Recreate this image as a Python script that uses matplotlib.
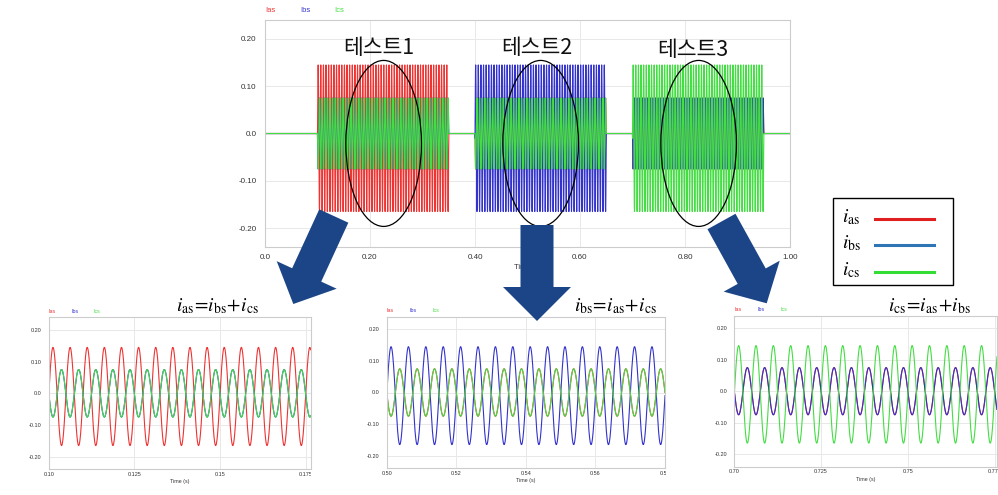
import numpy as np
import matplotlib.pyplot as plt
from matplotlib.patches import Ellipse, Polygon, Rectangle

# ---- data ----
phase_names = ['Ias', 'Ibs', 'Ics']
phase_colors = ['#ee3333', '#3333cc', '#44dd44']
test_labels = ['테스트1', '테스트2', '테스트3']
test_start = [0.10, 0.40, 0.70]          # s, when each test current is injected
test_end = [0.35, 0.65, 0.95]
freq = 200.0                             # Hz
fault_peak = 0.145                       # tested phase, positive peak
fault_trough = -0.165                    # tested phase, negative peak
other_amp = 0.075                        # the two return phases (anti-phase)
zoom_xlim = [(0.10, 0.1765), (0.50, 0.5795), (0.70, 0.7757)]
zoom_xticks = [[0.10, 0.125, 0.15, 0.175], [0.50, 0.52, 0.54, 0.56, 0.58], [0.70, 0.725, 0.75, 0.775]]
zoom_xlabels = [['0.10', '0.125', '0.15', '0.175'], ['0.50', '0.52', '0.54', '0.56', '0.58'],
                ['0.70', '0.725', '0.75', '0.775']]
top_xticks = [0.0, 0.2, 0.4, 0.6, 0.8, 1.0]
top_xlabels = ['0.0', '0.20', '0.40', '0.60', '0.80', '1.00']
yticks = [-0.2, -0.1, 0.0, 0.1, 0.2]
ylabels = ['-0.20', '-0.10', '0.0', '0.10', '0.20']
formulas = [r'$i_{\rm as}\!=\!i_{\rm bs}\!+\!i_{\rm cs}$',
            r'$i_{\rm bs}\!=\!i_{\rm as}\!+\!i_{\rm cs}$',
            r'$i_{\rm cs}\!=\!i_{\rm as}\!+\!i_{\rm bs}$']
legend_labels = [r'$i_{\rm as}$', r'$i_{\rm bs}$', r'$i_{\rm cs}$']
legend_colors = ['#e02020', '#2e75b6', '#33dd33']

# ---- build the three phase currents ----
t = np.arange(0, 1.0, 2e-5)
currents = np.zeros((3, t.size))
mid = (fault_peak + fault_trough) / 2
amp = (fault_peak - fault_trough) / 2
for k in range(3):
    on = (t >= test_start[k]) & (t <= test_end[k])
    s = np.sin(2 * np.pi * freq * t[on])
    for p in range(3):
        if p == k:
            currents[p, on] = mid + amp * s
        else:
            currents[p, on] = -other_amp * s

W, H = 998, 495
plt.rcParams['mathtext.fontset'] = 'stix'
fig = plt.figure(figsize=(W / 100, H / 100), dpi=100)


def px_axes(x0, y0, x1, y1):
    return fig.add_axes([x0 / W, 1 - y1 / H, (x1 - x0) / W, (y1 - y0) / H])


def style(ax, fs, ypad, xpad):
    ax.set_ylim(-0.24, 0.24)
    ax.set_yticks(yticks)
    ax.set_yticklabels(ylabels)
    ax.grid(True, color='#e8e8e8', lw=0.7)
    ax.set_axisbelow(True)
    for sp in ax.spines.values():
        sp.set_color('#cccccc')
        sp.set_linewidth(0.8)
    ax.tick_params(length=0, labelsize=fs, colors='#333333', pad=ypad, axis='y')
    ax.tick_params(length=0, labelsize=fs, colors='#333333', pad=xpad, axis='x')
    for lbl in ax.get_xticklabels() + ax.get_yticklabels():
        lbl.set_family('Liberation Sans')


# ---- overview plot ----
ax = px_axes(265, 20, 790, 247)
for p in range(3):
    ax.plot(t, currents[p], color=phase_colors[p], lw=0.8)
ax.set_xlim(0, 1.0)
ax.set_xticks(top_xticks)
ax.set_xticklabels(top_xlabels)
style(ax, 5.8, 6, 5)
ax.set_xlabel('Time (s)', fontsize=5.5, family='Liberation Sans', labelpad=2, color='#333333')
for p, x in enumerate([270, 305, 339]):
    fig.text(x / W, 1 - 10 / H, phase_names[p], color=phase_colors[p], fontsize=5.5,
             family='Liberation Sans', ha='center', va='center')

ell_t = [0.226, 0.525, 0.826]
for k in range(3):
    ax.add_patch(Ellipse((ell_t[k], -0.021), 0.144, 0.351, fill=False, ec='black', lw=0.9, zorder=5))
txt_pos = [(0.2175, 0.181), (0.5175, 0.181), (0.814, 0.176)]
for k in range(3):
    ax.text(*txt_pos[k], test_labels[k], fontsize=15.5, ha='center', va='center',
            family=['Noto Sans CJK KR', 'DejaVu Sans'], color='#111111', zorder=6)

# ---- zoomed plots ----
zoom_box = [(48.7, 317.3, 310.7, 469.3), (386.7, 316.7, 665, 468.3), (734.3, 315.7, 997, 466.7)]
leg_x = [(52, 75, 97), (390, 412.7, 435.7), (737.7, 761, 784.3)]
formula_x = [217, 615, 929]
for k in range(3):
    x0, y0, x1, y1 = zoom_box[k]
    az = px_axes(x0, y0, x1, y1)
    for p in range(3):
        az.plot(t, currents[p], color=phase_colors[p], lw=0.8)
    az.set_xlim(*zoom_xlim[k])
    az.set_xticks(zoom_xticks[k])
    az.set_xticklabels(zoom_xlabels[k])
    style(az, 4, 5, 2)
    az.set_xlabel('Time (s)', fontsize=3.8, family='Liberation Sans', labelpad=1.5, color='#333333')
    for p in range(3):
        fig.text(leg_x[k][p] / W, 1 - (y0 - 6) / H, phase_names[p], color=phase_colors[p],
                 fontsize=3.8, family='Liberation Sans', ha='center', va='center')
    fig.text(formula_x[k] / W, 1 - 306 / H, formulas[k], fontsize=14, ha='center', va='center')

# hide tick labels that spill over the cropped screenshots
for x0, x1 in [(311, 380), (665.5, 720)]:
    fig.patches.append(Rectangle((x0 / W, 1 - 482 / H), (x1 - x0) / W, 12 / H,
                                 transform=fig.transFigure, fc='white', ec='none', zorder=3))


# ---- block arrows ----
def block_arrow(x0, y0, x1, y1, shaft, head_w, head_len):
    p0 = np.array([x0, y0], float)
    p1 = np.array([x1, y1], float)
    d = p1 - p0
    L = np.hypot(*d)
    u = d / L
    n = np.array([-u[1], u[0]])
    base = p0 + u * (L - head_len)
    pts = [p0 + n * shaft / 2, base + n * shaft / 2, base + n * head_w / 2, p1,
           base - n * head_w / 2, base - n * shaft / 2, p0 - n * shaft / 2]
    pts = [(q[0] / W, 1 - q[1] / H) for q in pts]
    fig.patches.append(Polygon(pts, closed=True, transform=fig.transFigure,
                               fc='#1c4587', ec='none', zorder=5))


block_arrow(333.8, 216, 293.3, 304, 32, 66, 32)
block_arrow(537, 225, 537, 321, 33, 68, 34)
block_arrow(721.5, 221.5, 766.7, 303.3, 32, 64, 31)

# ---- legend box ----
fig.patches.append(Rectangle((833.3 / W, 1 - 285 / H), (952.7 - 833.3) / W, (285 - 198.3) / H,
                             transform=fig.transFigure, fc='white', ec='black', lw=1.0, zorder=4))
for p, y in enumerate([219.3, 245, 271.7]):
    fig.text(851 / W, 1 - (y - 2) / H, legend_labels[p], fontsize=14, ha='center', va='center', zorder=6)
    fig.lines.append(plt.Line2D([875 / W, 934.3 / W], [1 - y / H, 1 - y / H], transform=fig.transFigure,
                                color=legend_colors[p], lw=2.2, zorder=6))

fig.savefig('out.png', dpi=100, facecolor='white')
